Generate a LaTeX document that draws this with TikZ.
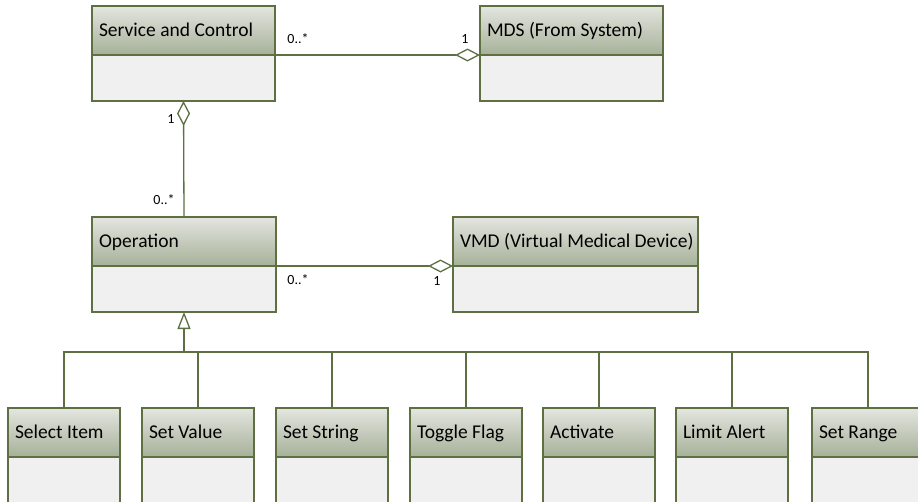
\documentclass[tikz,border=0pt]{standalone}
\usepackage{fontspec}
\setmainfont{Carlito}
\usetikzlibrary{positioning,arrows.meta}
\definecolor{umlborder}{HTML}{5E7042}
\definecolor{headtop}{HTML}{E4E5E0}
\definecolor{headbot}{HTML}{A6B198}
\definecolor{bodyfill}{HTML}{F0F0F0}

\begin{document}
\begin{tikzpicture}[
    x=1pt, y=-1pt,
    head/.style={
        draw=umlborder,
        line width=1.6pt,
        top color=headtop,
        bottom color=headbot,
        anchor=north west,
        outer sep=0pt,
        inner xsep=7pt,
        inner ysep=0pt,
        minimum height=49pt,
        text width=#1,
        text height=14pt,
        text depth=1.5pt,
        align=flush left,
        font=\fontsize{19.5}{22}\selectfont,
    },
    body/.style={
        draw=umlborder,
        line width=1.6pt,
        fill=bodyfill,
        outer sep=0pt,
        inner sep=0pt,
        minimum width=#1,
        minimum height=46pt,
    },
    mult/.style={font=\fontsize{14}{16}\selectfont, inner sep=0pt},
    conn/.style={draw=umlborder, line width=1.3pt},
    agg/.style={conn, {Diamond[length=25pt, width=13pt, fill=white]}-},
    gen/.style={conn, -{Triangle[open, length=17pt, width=13pt]}},
]

\path[use as bounding box, clip] (0,0) rectangle (918,501);

\node[head=169pt] (svc) at (92,6) {Service and Control};
\node[body=183pt, below=0pt of svc] (svcb) {};
\node[head=169pt] (mds) at (480,6) {MDS (From System)};
\node[body=183pt, below=0pt of mds] (mdsb) {};
\node[head=170pt] (op) at (92,217) {Operation};
\node[body=184pt, below=0pt of op] (opb) {};
\node[head=231pt] (vmd) at (453,217) {\mbox{VMD (Virtual Medical Device)}};
\node[body=245pt, below=0pt of vmd] (vmdb) {};

\node[head=98pt] (sel) at (8,408) {Select Item};
\node[body=112pt, below=0pt of sel] (selb) {};
\node[head=98pt] (setv) at (142,408) {Set Value};
\node[body=112pt, below=0pt of setv] (setvb) {};
\node[head=98pt] (sets) at (276,408) {Set String};
\node[body=112pt, below=0pt of sets] (setsb) {};
\node[head=98pt] (tog) at (410,408) {Toggle Flag};
\node[body=112pt, below=0pt of tog] (togb) {};
\node[head=98pt] (act) at (543,408) {Activate};
\node[body=112pt, below=0pt of act] (actb) {};
\node[head=98pt] (lim) at (676,408) {Limit Alert};
\node[body=112pt, below=0pt of lim] (limb) {};
\node[head=98pt] (rng) at (812,408) {Set Range};
\node[body=112pt, below=0pt of rng] (rngb) {};

\draw[agg] (mds.south west) -- (svc.south east);
\draw[agg] (svcb.south) -- (op.north);
\draw[agg] (vmd.south west) -- (op.south east);

\coordinate (bus) at (184,352);
\draw[gen] (bus) -- (opb.south);
\draw[conn] (sel.north) |- (bus);
\draw[conn] (setv.north) |- (bus);
\draw[conn] (sets.north) |- (bus);
\draw[conn] (tog.north) |- (bus);
\draw[conn] (act.north) |- (bus);
\draw[conn] (lim.north) |- (bus);
\draw[conn] (rng.north) |- (bus);

\node[mult] (m1) at (298,39) {0..*};
\node[mult] (m2) at (465,39) {1};
\node[mult] (m3) at (171,119) {1};
\node[mult] (m4) at (164,200) {0..*};
\node[mult] (m5) at (298,280) {0..*};
\node[mult] (m6) at (437,281) {1};

\end{tikzpicture}
\end{document}
